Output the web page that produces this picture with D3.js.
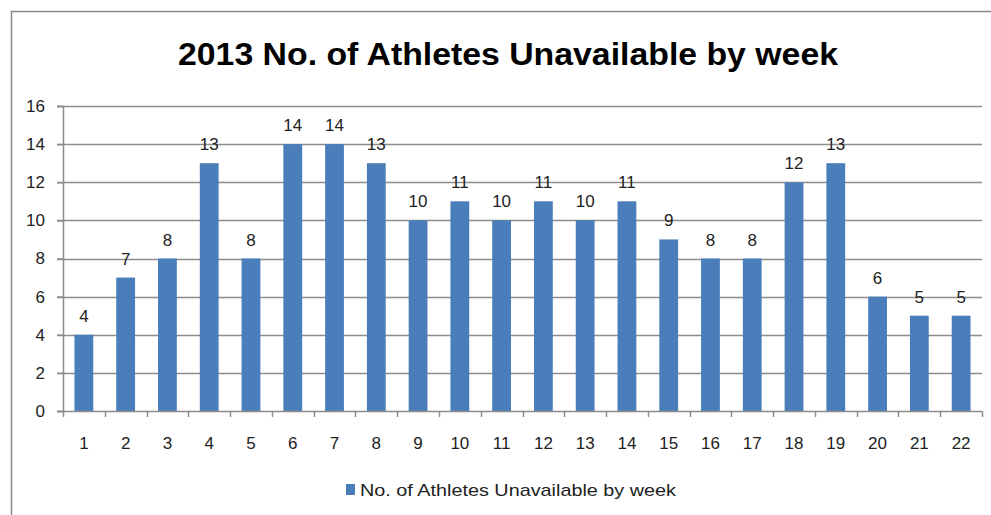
<!DOCTYPE html>
<html>
<head>
<meta charset="utf-8">
<script src="https://cdn.jsdelivr.net/npm/d3@7"></script>
<style>
  body { margin: 0; background: #fff; }
  text { font-family: "Liberation Sans", Arial, sans-serif; }
</style>
</head>
<body>
<div id="chart"></div>
<script>
var weeks = ["1","2","3","4","5","6","7","8","9","10","11","12","13","14","15","16","17","18","19","20","21","22"];
var unavailable = [4,7,8,13,8,14,14,13,10,11,10,11,10,11,9,8,8,12,13,6,5,5];
var yTicks = [0,2,4,6,8,10,12,14,16];
var chartTitle = "2013 No. of Athletes Unavailable by week";
var seriesName = "No. of Athletes Unavailable by week";

var W = 991, H = 515;
var margin = {top: 106, right: 9, bottom: 104, left: 63},
    width = W - margin.left - margin.right,
    height = H - margin.top - margin.bottom;

var barColor = "#4a7ebb";
var gridColor = "#8c8c8c";

var svg = d3.select("#chart").append("svg")
    .attr("width", W)
    .attr("height", H);

// outer chart frame (cropped on right & bottom in the original)
svg.append("path")
    .attr("d", "M11.5," + H + "V11.5H" + W)
    .attr("fill", "none")
    .attr("stroke", "#8a8a8a")
    .attr("stroke-width", 1.5);

// title
svg.append("text")
    .attr("x", 178)
    .attr("y", 65)
    .attr("textLength", 660)
    .attr("lengthAdjust", "spacingAndGlyphs")
    .style("font-size", "32px")
    .style("font-weight", "bold")
    .style("fill", "#000")
    .text(chartTitle);

var g = svg.append("g")
    .attr("transform", "translate(" + margin.left + "," + margin.top + ")");

var x = d3.scaleBand()
    .domain(weeks)
    .range([0, width])
    .paddingInner(0.55)
    .paddingOuter(0.275);

var y = d3.scaleLinear()
    .domain([0, 16])
    .range([height, 0]);

// gridlines
g.append("g")
    .selectAll("line")
    .data(yTicks.filter(function(d){ return d > 0; }))
    .enter().append("line")
      .attr("x1", -6)
      .attr("x2", width)
      .attr("y1", function(d){ return Math.round(y(d)) + 0.5; })
      .attr("y2", function(d){ return Math.round(y(d)) + 0.5; })
      .attr("stroke", gridColor)
      .attr("stroke-width", 1.5);

// y axis
var yAxis = g.append("g")
    .call(d3.axisLeft(y).tickValues(yTicks).tickSize(6).tickPadding(12));
yAxis.select(".domain").attr("stroke", gridColor).attr("stroke-width", 1.5);
yAxis.selectAll(".tick line").attr("stroke", gridColor).attr("stroke-width", 1.5);
yAxis.selectAll("text")
    .style("font-size", "17px")
    .style("fill", "#222");

// bars
g.selectAll(".bar")
    .data(unavailable)
    .enter().append("rect")
      .attr("class", "bar")
      .attr("x", function(d, i){ return x(weeks[i]); })
      .attr("width", x.bandwidth())
      .attr("y", function(d){ return y(d); })
      .attr("height", function(d){ return height - y(d); })
      .attr("fill", barColor);

// data labels
g.selectAll(".lbl")
    .data(unavailable)
    .enter().append("text")
      .attr("class", "lbl")
      .attr("x", function(d, i){ return x(weeks[i]) + x.bandwidth() / 2; })
      .attr("y", function(d){ return y(d) - 13; })
      .attr("text-anchor", "middle")
      .style("font-size", "17px")
      .style("fill", "#222")
      .text(function(d){ return d; });

// x axis (ticks between categories)
var xAxisG = g.append("g")
    .attr("transform", "translate(0," + height + ")");
xAxisG.append("line")
    .attr("x1", -6).attr("x2", width)
    .attr("y1", 0.5).attr("y2", 0.5)
    .attr("stroke", gridColor).attr("stroke-width", 1.5);
xAxisG.selectAll(".xt")
    .data(d3.range(weeks.length + 1))
    .enter().append("line")
      .attr("x1", function(i){ return Math.round(i * width / weeks.length) + 0.5; })
      .attr("x2", function(i){ return Math.round(i * width / weeks.length) + 0.5; })
      .attr("y1", 0).attr("y2", 6)
      .attr("stroke", gridColor).attr("stroke-width", 1.5);
xAxisG.selectAll(".xl")
    .data(weeks)
    .enter().append("text")
      .attr("x", function(d){ return x(d) + x.bandwidth() / 2; })
      .attr("y", 38)
      .attr("text-anchor", "middle")
      .style("font-size", "17px")
      .style("fill", "#222")
      .text(function(d){ return d; });

// legend
var legend = svg.append("g")
    .attr("transform", "translate(346,484)");
legend.append("rect")
    .attr("x", 0).attr("y", 0)
    .attr("width", 9).attr("height", 11)
    .attr("fill", barColor);
legend.append("text")
    .attr("x", 14)
    .attr("y", 12)
    .attr("textLength", 316)
    .attr("lengthAdjust", "spacingAndGlyphs")
    .style("font-size", "17px")
    .style("fill", "#222")
    .text(seriesName);
</script>
</body>
</html>
